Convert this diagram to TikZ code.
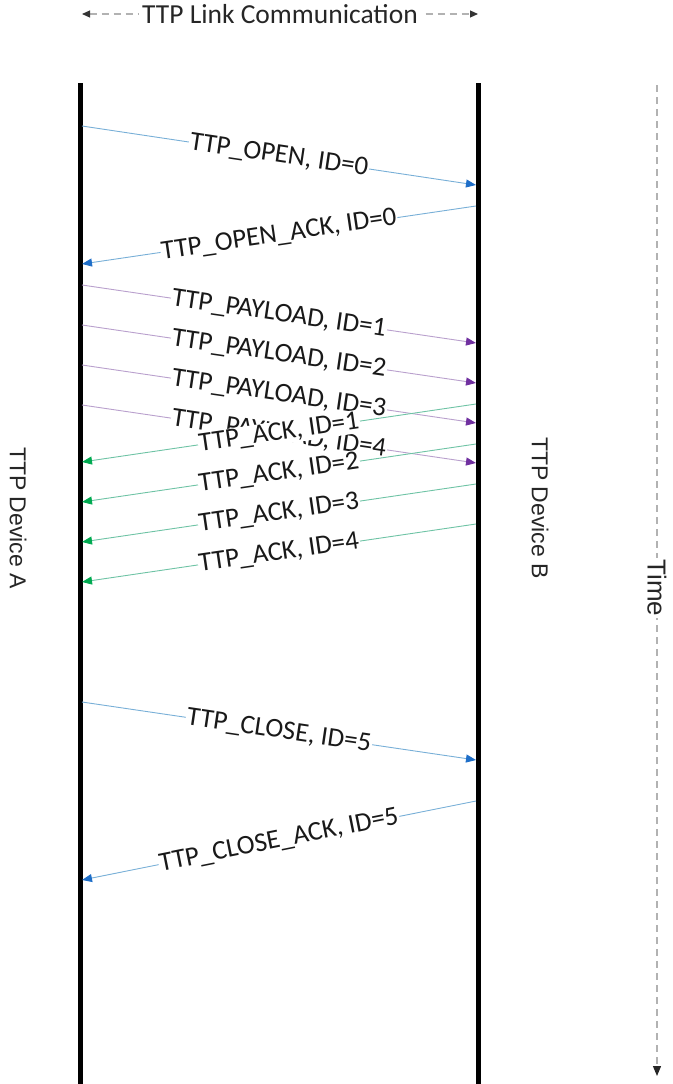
\documentclass[tikz,border=0pt]{standalone}
\usepackage{fontspec}
\setmainfont{Carlito}
\newfontfamily\arialf{Liberation Sans}
\usepackage{xcolor}
\usetikzlibrary{arrows.meta,positioning}
\definecolor{openln}{RGB}{120,175,215}
\definecolor{openhd}{RGB}{30,110,200}
\definecolor{payln}{RGB}{185,160,205}
\definecolor{payhd}{RGB}{112,48,160}
\definecolor{ackln}{RGB}{110,195,165}
\definecolor{ackhd}{RGB}{0,170,80}
\tikzset{
  vida/.style={line width=5pt,black},
  msg/.style={line width=0.9pt},
  etq/.style={midway,sloped,fill=white,inner sep=1pt,text=black!90,font=\fontsize{27}{29}\selectfont},
  abrir/.style={msg,openln,-{Triangle[length=10pt,width=8pt,color=openhd]}},
  carga/.style={msg,payln,-{Triangle[length=10pt,width=8pt,color=payhd]}},
  conf/.style={msg,ackln,-{Triangle[length=10pt,width=8pt,color=ackhd]}},
  guia/.style={gray!60,line width=1.2pt,dash pattern=on 7pt off 5pt},
  rot/.style={rotate=-90,font=\arialf\fontsize{23}{25}\selectfont,fill=white,inner sep=2pt,text=black!85}
}
\begin{document}
\begin{tikzpicture}[x=1pt,y=-1pt]
\useasboundingbox (0,0) rectangle (672,1084);
% lineas de vida
\coordinate (Atop) at (80,83); \coordinate (Abot) at (80,1084);
\coordinate (Btop) at (478,83); \coordinate (Bbot) at (478,1084);
\draw[vida] (Atop)--(Abot); \draw[vida] (Btop)--(Bbot);
\node[rot] (devA) at (18,518){TTP Device A};
\node[rot] (devB) at (540,508){TTP Device B};
% enlace y tiempo
\coordinate (lkL) at (82,14); \coordinate (lkR) at (478,14);
\draw[guia,{Triangle[length=8pt,width=7pt,color=black!80]}-{Triangle[length=8pt,width=7pt,color=black!80]}] (lkL)--(lkR)
  node[midway,fill=white,inner sep=3pt,font=\fontsize{27.5}{29}\selectfont,text=black!85]{TTP Link Communication};
\coordinate (tmTop) at (657,85); \coordinate (tmBot) at (657,1076);
\draw[guia,-{Triangle[length=10pt,width=8pt,color=black!85]}] (tmTop)--(tmBot);
\node[rot,font=\arialf\fontsize{26}{28}\selectfont] (tiempo) at (657,588){Time};
% apertura
\coordinate (o1) at (82,126); \coordinate (o2) at (476,185);
\draw[abrir] (o1)--(o2) node[etq]{TTP\_OPEN, ID=0};
\coordinate (oa1) at (476,206); \coordinate (oa2) at (82,264);
\draw[abrir] (oa1)--(oa2) node[etq]{TTP\_OPEN\_ACK, ID=0};
% datos
\foreach \i in {1,...,4}{
  \coordinate (p\i a) at (82,245+40*\i); \coordinate (p\i b) at (476,303+40*\i);
  \draw[carga] (p\i a)--(p\i b) node[etq]{TTP\_PAYLOAD, ID=\i};
}
\foreach \i in {1,...,4}{
  \coordinate (k\i a) at (476,364+40*\i); \coordinate (k\i b) at (82,422+40*\i);
  \draw[conf] (k\i a)--(k\i b) node[etq]{TTP\_ACK, ID=\i};
}
% cierre
\coordinate (c1) at (82,702); \coordinate (c2) at (476,760);
\draw[abrir] (c1)--(c2) node[etq]{TTP\_CLOSE, ID=5};
\coordinate (ca1) at (476,801); \coordinate (ca2) at (82,880);
\draw[abrir] (ca1)--(ca2) node[etq]{TTP\_CLOSE\_ACK, ID=5};
\end{tikzpicture}
\end{document}
